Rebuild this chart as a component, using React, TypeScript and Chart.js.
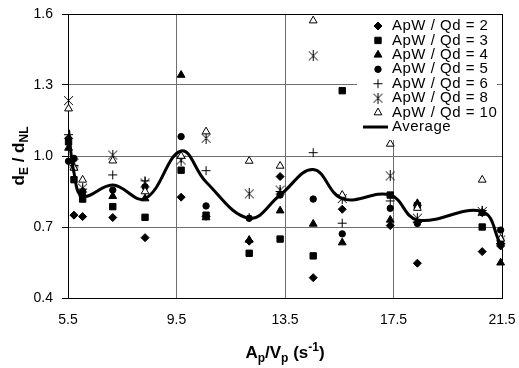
import React, { useEffect, useRef } from 'react';
import { Chart, registerables } from 'chart.js';
import { drawPoint } from 'chart.js/helpers';

Chart.register(...registerables);

// ---- data ----
const xValues = [5.52, 5.72, 6.04, 7.15, 8.34, 9.67, 10.59, 12.18, 13.32, 14.54, 15.61, 17.38, 18.38, 20.77, 21.45];

const seriesLabels = [
  'ApW / Qd = 2',
  'ApW / Qd = 3',
  'ApW / Qd = 4',
  'ApW / Qd = 5',
  'ApW / Qd = 6',
  'ApW / Qd = 8',
  'ApW / Qd = 10',
  'Average',
];

const ratio2 = [1.075, 0.75, 0.744, 0.74, 0.655, 0.826, 0.745, 0.64, 0.913, 0.486, 0.775, 0.706, 0.547, 0.596, 0.62];
const ratio3 = [1.06, 0.9, 0.818, 0.786, 0.741, 0.94, 0.75, 0.589, 0.649, 0.578, 1.276, 0.835, 0.79, 0.7, 0.638];
const ratio4 = [1.034, 0.95, 0.84, 0.83, 0.82, 1.342, 0.74, 0.645, 0.769, 0.713, 0.634, 0.73, 0.8, 0.76, 0.549];
const ratio5 = [0.978, 0.99, 0.85, 0.856, 0.87, 1.082, 0.789, 0.737, 0.835, 0.818, 0.671, 0.779, 0.715, 0.76, 0.687];
const ratio6 = [1.09, 0.96, 0.86, 0.92, 0.895, 0.99, 0.938, 0.74, 0.85, 1.014, 0.716, 0.81, 0.72, 0.77, 0.63];
const ratio8 = [1.234, 0.97, 0.864, 1.004, 0.886, 0.983, 1.075, 0.84, 0.856, 1.423, 0.82, 0.916, 0.737, 0.765, 0.645];
const ratio10 = [1.2, 0.95, 0.899, 0.98, 0.85, 1.0, 1.103, 0.979, 0.958, 1.572, 0.835, 1.051, 0.78, 0.899, 0.65];
const averageValues = [1.11, 0.93, 0.83, 0.877, 0.82, 1.021, 0.89, 0.737, 0.835, 0.943, 0.82, 0.835, 0.73, 0.765, 0.625];

const xMin = 5.5;
const xMax = 21.5;
const xStep = 4;
const yMin = 0.4;
const yMax = 1.6;
const yStep = 0.3;

const FONT = '"Liberation Sans", Arial, Helvetica, sans-serif';

function toPoints(ys: number[]) {
  return xValues.map((x, i) => ({ x, y: ys[i] }));
}

function makeStar(size: number): HTMLCanvasElement {
  const c = document.createElement('canvas');
  c.width = size;
  c.height = size;
  const g = c.getContext('2d')!;
  g.strokeStyle = '#000';
  g.lineWidth = 1;
  g.beginPath();
  g.moveTo(1, 1);
  g.lineTo(size - 1, size - 1);
  g.moveTo(size - 1, 1);
  g.lineTo(1, size - 1);
  g.moveTo(size / 2, 0);
  g.lineTo(size / 2, size);
  g.stroke();
  return c;
}

type Part = { t: string; kind?: 'sub' | 'sup' };

function drawRich(ctx: CanvasRenderingContext2D, parts: Part[], big: number, small: number) {
  const fontFor = (p: Part) => `bold ${p.kind ? small : big}px ${FONT}`;
  let total = 0;
  const widths = parts.map((p) => {
    ctx.font = fontFor(p);
    const w = ctx.measureText(p.t).width;
    total += w;
    return w;
  });
  let x = -total / 2;
  parts.forEach((p, i) => {
    ctx.font = fontFor(p);
    const dy = p.kind === 'sub' ? 4 : p.kind === 'sup' ? -7 : 0;
    ctx.fillText(p.t, x, dy);
    x += widths[i];
  });
}

const titlesPlugin = {
  id: 'axisTitles',
  afterDraw(chart: any) {
    const { ctx, chartArea } = chart;
    ctx.save();
    ctx.fillStyle = '#000';
    ctx.textBaseline = 'alphabetic';
    ctx.textAlign = 'left';
    // x title
    ctx.save();
    ctx.translate((chartArea.left + chartArea.right) / 2, chartArea.bottom + 60);
    drawRich(ctx, [{ t: 'A' }, { t: 'p', kind: 'sub' }, { t: '/V' }, { t: 'p', kind: 'sub' }, { t: ' (s' }, { t: '-1', kind: 'sup' }, { t: ')' }], 17, 12);
    ctx.restore();
    // y title
    ctx.save();
    ctx.translate(chartArea.left - 44, (chartArea.top + chartArea.bottom) / 2);
    ctx.rotate(-Math.PI / 2);
    drawRich(ctx, [{ t: 'd' }, { t: 'E', kind: 'sub' }, { t: ' / d' }, { t: 'NL', kind: 'sub' }], 17, 12);
    ctx.restore();
    ctx.restore();
  },
};

const legendPlugin = {
  id: 'boxLegend',
  afterDatasetsDraw(chart: any) {
    const { ctx, chartArea } = chart;
    const right = chartArea.right;
    const top = chartArea.top;
    ctx.save();
    ctx.fillStyle = '#fff';
    ctx.fillRect(right - 145, top + 1, 140, 125);
    const markerX = right - 124;
    const textX = right - 110;
    ctx.font = `15px ${FONT}`;
    try {
      (ctx as any).letterSpacing = '0.5px';
    } catch (e) {
      /* ignore */
    }
    ctx.textBaseline = 'middle';
    ctx.textAlign = 'left';
    chart.data.datasets.forEach((ds: any, i: number) => {
      const y = top + 12 + i * 14.43;
      if (ds.showLine) {
        ctx.strokeStyle = '#000';
        ctx.lineWidth = 3;
        ctx.beginPath();
        ctx.moveTo(right - 139, y);
        ctx.lineTo(right - 114, y);
        ctx.stroke();
      } else {
        ctx.fillStyle = ds.backgroundColor;
        ctx.strokeStyle = ds.borderColor;
        ctx.lineWidth = ds.borderWidth;
        drawPoint(ctx, { pointStyle: ds.pointStyle, rotation: 0, radius: ds.pointRadius, borderWidth: ds.borderWidth }, markerX, y);
      }
      ctx.fillStyle = '#000';
      ctx.fillText(ds.label, textX, y);
    });
    ctx.restore();
  },
};

export default function App() {
  const canvasRef = useRef<HTMLCanvasElement | null>(null);

  useEffect(() => {
    const canvas = canvasRef.current;
    if (!canvas) return;
    const star = makeStar(11);
    const marker = (label: string, data: number[], style: any, radius: number, order: number, fill = '#000', bw = 1) => ({
      label,
      data: toPoints(data),
      pointStyle: style,
      pointRadius: radius,
      pointHoverRadius: radius,
      backgroundColor: fill,
      borderColor: '#000',
      borderWidth: bw,
      showLine: false,
      clip: false,
      order,
    });
    const gridColor = (c: any) => (c.index === 0 || c.index === 4 ? '#000' : '#6e6e6e');
    const chart = new Chart(canvas, {
      type: 'scatter',
      data: {
        datasets: [
          marker(seriesLabels[0], ratio2, 'rectRot', 4, 7),
          marker(seriesLabels[1], ratio3, 'rect', 4.5, 6),
          marker(seriesLabels[2], ratio4, 'triangle', 4.5, 5),
          marker(seriesLabels[3], ratio5, 'circle', 3.2, 4),
          marker(seriesLabels[4], ratio6, 'cross', 4.5, 3),
          marker(seriesLabels[5], ratio8, star, 5, 2),
          marker(seriesLabels[6], ratio10, 'triangle', 4.5, 1, '#fff', 1),
          {
            label: seriesLabels[7],
            data: toPoints(averageValues),
            showLine: true,
            borderColor: '#000',
            backgroundColor: '#000',
            borderWidth: 3,
            pointRadius: 0,
            pointHoverRadius: 0,
            tension: 0.4,
            order: 0,
          } as any,
        ],
      },
      options: {
        animation: false,
        responsive: false,
        maintainAspectRatio: false,
        events: [],
        layout: { padding: { left: 0, right: 17, top: 14, bottom: 0 } },
        plugins: {
          legend: { display: false },
          tooltip: { enabled: false },
        },
        scales: {
          x: {
            type: 'linear',
            min: xMin,
            max: xMax,
            ticks: {
              stepSize: xStep,
              color: '#000',
              font: { family: FONT, size: 14 },
              padding: 14,
              maxRotation: 0,
              callback: (v: any) => Number(v).toFixed(1),
            },
            grid: { color: gridColor, drawTicks: false, lineWidth: 1 },
            border: { color: '#000', width: 1 },
            afterFit: (s: any) => {
              s.height = 70;
              s.paddingLeft = 0;
              s.paddingRight = 0;
            },
          },
          y: {
            type: 'linear',
            min: yMin,
            max: yMax,
            ticks: {
              stepSize: yStep,
              color: '#000',
              font: { family: FONT, size: 14 },
              padding: 9,
              callback: (v: any) => Number(v).toFixed(1),
            },
            grid: { color: gridColor, tickLength: 6, tickColor: '#000', lineWidth: 1 },
            border: { color: '#000', width: 1 },
            afterFit: (s: any) => {
              s.width = 68;
              s.paddingTop = 0;
              s.paddingBottom = 0;
            },
          },
        },
      } as any,
      plugins: [legendPlugin, titlesPlugin],
    });
    return () => chart.destroy();
  }, []);

  return (
    <div style={{ position: 'absolute', left: 0, top: 0, width: 519, height: 368, background: '#fff' }}>
      <canvas ref={canvasRef} width={519} height={368} style={{ width: 519, height: 368, display: 'block' }} />
    </div>
  );
}
